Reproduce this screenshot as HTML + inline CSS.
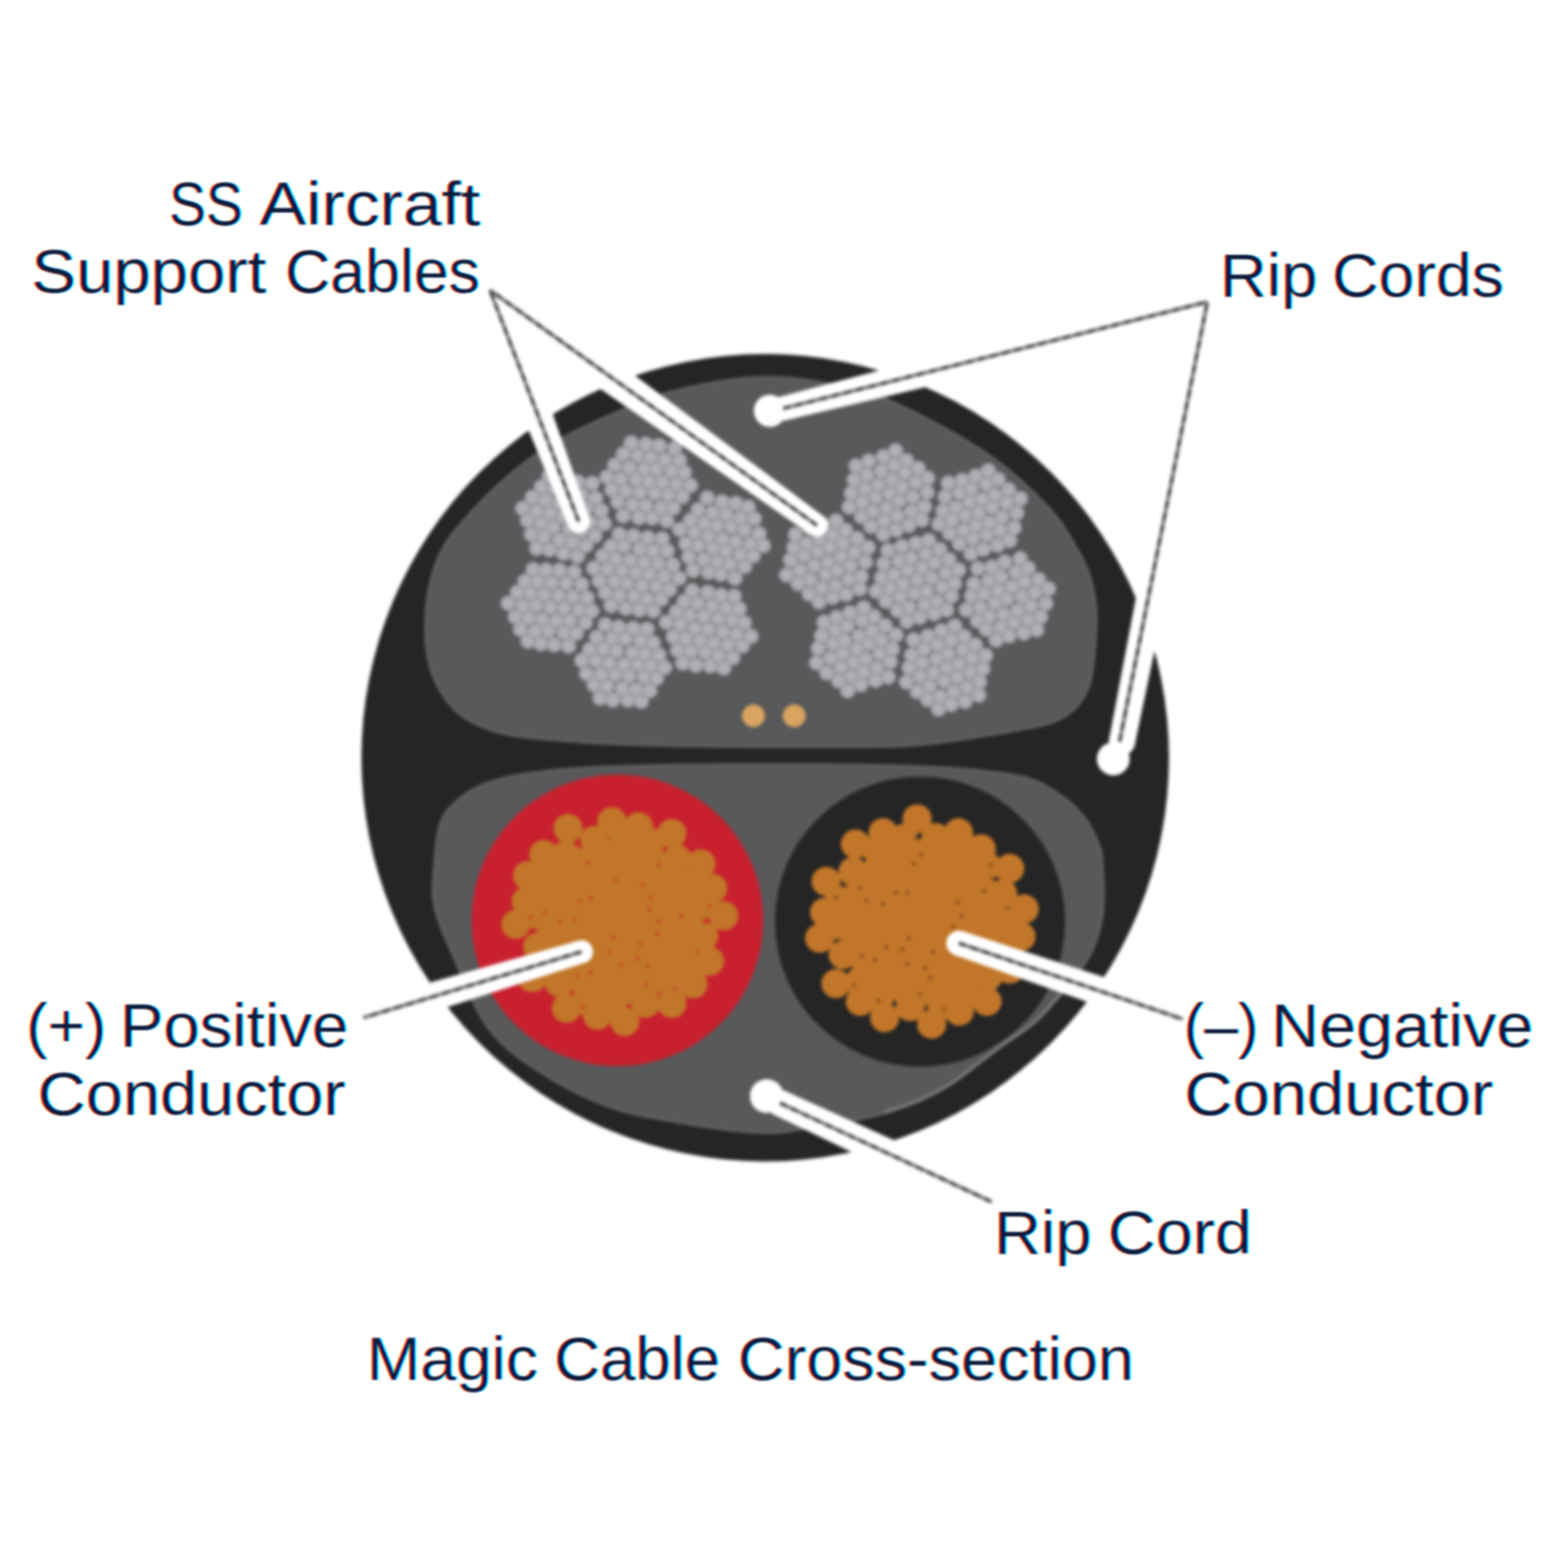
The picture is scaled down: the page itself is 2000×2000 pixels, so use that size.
<!DOCTYPE html>
<html lang="en"><head><meta charset="utf-8"><title>Magic Cable Cross-section</title>
<style>html,body{margin:0;padding:0;background:#fff}body{width:2000px;height:2000px;overflow:hidden}svg{display:block}</style></head>
<body>
<svg width="2000" height="2000" viewBox="0 0 2000 2000">
<defs><filter id="b" x="0" y="0" width="2000" height="2000" filterUnits="userSpaceOnUse" color-interpolation-filters="sRGB"><feGaussianBlur stdDeviation="2.2"/></filter><radialGradient id="sg"><stop offset="0" stop-color="#b3b5b8"/><stop offset="0.55" stop-color="#acaeb1"/><stop offset="1" stop-color="#97999c"/></radialGradient><filter id="bt" x="0" y="0" width="2000" height="2000" filterUnits="userSpaceOnUse" color-interpolation-filters="sRGB"><feGaussianBlur in="SourceAlpha" stdDeviation="1.25" result="a"/><feOffset in="a" dx="1.5" dy="0" result="ar"/><feOffset in="a" dx="-1.5" dy="0" result="ab"/><feColorMatrix in="ar" type="matrix" values="0 0 0 -0.953 1  0 0 0 0 1  0 0 0 0 1  0 0 0 0 1" result="lr"/><feColorMatrix in="a" type="matrix" values="0 0 0 0 1  0 0 0 -0.890 1  0 0 0 0 1  0 0 0 0 1" result="lg"/><feColorMatrix in="ab" type="matrix" values="0 0 0 0 1  0 0 0 0 1  0 0 0 -0.765 1  0 0 0 0 1" result="lb"/><feBlend in="lr" in2="lg" mode="multiply" result="rg"/><feBlend in="rg" in2="lb" mode="multiply"/></filter></defs>
<rect width="2000" height="2000" fill="#fff"/>
<g filter="url(#bt)" font-family="'Liberation Sans', Arial, sans-serif" font-size="77" fill="#0c1c3c">
<text y="287.4"><tspan x="215.3" textLength="94.1" lengthAdjust="spacingAndGlyphs">SS</tspan> <tspan x="330.8" textLength="281.4" lengthAdjust="spacingAndGlyphs">Aircraft</tspan></text>
<text y="372.9"><tspan x="39.6" textLength="299.7" lengthAdjust="spacingAndGlyphs">Support</tspan> <tspan x="363.2" textLength="248.6" lengthAdjust="spacingAndGlyphs">Cables</tspan></text>
<text y="378.4"><tspan x="1555.5" textLength="124.3" lengthAdjust="spacingAndGlyphs">Rip</tspan> <tspan x="1698.7" textLength="219.2" lengthAdjust="spacingAndGlyphs">Cords</tspan></text>
<text y="1334.5"><tspan x="33.1" textLength="102.1" lengthAdjust="spacingAndGlyphs">(+)</tspan> <tspan x="152.4" textLength="291.5" lengthAdjust="spacingAndGlyphs">Positive</tspan></text>
<text y="1421.5"><tspan x="47.6" textLength="392.8" lengthAdjust="spacingAndGlyphs">Conductor</tspan></text>
<text y="1334.5"><tspan x="1509.5" textLength="95.2" lengthAdjust="spacingAndGlyphs">(–)</tspan> <tspan x="1621.0" textLength="334.3" lengthAdjust="spacingAndGlyphs">Negative</tspan></text>
<text y="1421.5"><tspan x="1510.2" textLength="393.9" lengthAdjust="spacingAndGlyphs">Conductor</tspan></text>
<text y="1599.0"><tspan x="1267.5" textLength="124.3" lengthAdjust="spacingAndGlyphs">Rip</tspan> <tspan x="1412.6" textLength="183.8" lengthAdjust="spacingAndGlyphs">Cord</tspan></text>
<text y="1760.2"><tspan x="467.5" textLength="218.2" lengthAdjust="spacingAndGlyphs">Magic</tspan> <tspan x="706.6" textLength="211.5" lengthAdjust="spacingAndGlyphs">Cable</tspan> <tspan x="940.7" textLength="505.3" lengthAdjust="spacingAndGlyphs">Cross-section</tspan></text>
</g>
<g filter="url(#b)">
<circle cx="976" cy="966.5" r="515" fill="#252525"/>
<path d="M976.0,481.0 C940.3,481.5 898.0,489.6 866.9,496.9 C835.8,504.2 815.3,514.0 789.6,524.7 C763.9,535.5 735.9,548.0 712.7,561.4 C689.6,574.8 671.3,587.5 650.7,605.0 C630.1,622.5 604.6,648.6 589.2,666.5 C573.8,684.4 565.9,694.9 558.4,712.6 C550.9,730.3 546.2,752.3 544.0,772.7 C541.8,793.1 542.1,817.0 545.0,835.0 C547.9,853.0 553.6,867.6 561.5,881.0 C569.4,894.4 578.1,906.2 592.5,915.5 C606.9,924.8 623.1,931.8 648.0,937.0 C672.9,942.2 716.3,944.4 741.6,946.5 C766.9,948.6 779.3,948.7 800.0,949.5 C820.7,950.3 836.7,951.0 866.0,951.5 C895.3,952.0 940.2,952.3 976.0,952.5 C1011.8,952.7 1052.0,952.7 1081.0,952.5 C1110.0,952.3 1130.2,952.4 1150.0,951.5 C1169.8,950.6 1183.3,949.0 1200.0,947.0 C1216.7,945.0 1233.3,942.2 1250.0,939.5 C1266.7,936.8 1285.3,933.8 1300.0,931.0 C1314.7,928.2 1327.7,926.3 1338.0,923.0 C1348.3,919.7 1355.3,915.5 1362.0,911.0 C1368.7,906.5 1373.2,903.2 1378.0,896.0 C1382.8,888.8 1387.8,880.3 1391.0,868.0 C1394.2,855.7 1395.8,837.0 1397.0,822.0 C1398.2,807.0 1399.2,792.5 1398.0,778.0 C1396.8,763.5 1394.2,748.2 1390.0,735.0 C1385.8,721.8 1381.7,713.5 1373.0,699.0 C1364.3,684.5 1356.5,667.7 1338.0,648.0 C1319.5,628.3 1292.7,602.4 1262.0,581.0 C1231.3,559.6 1183.8,534.0 1153.6,519.5 C1123.4,505.0 1110.6,500.4 1081.0,494.0 C1051.4,487.6 1011.7,480.5 976.0,481.0Z" fill="#58595b" stroke="#626366" stroke-width="3"/>
<path d="M976.0,975.0 C908.2,975.0 824.0,976.0 773.0,978.0 C722.0,980.0 696.2,983.2 670.0,987.0 C643.8,990.8 631.0,994.8 616.0,1001.0 C601.0,1007.2 589.2,1015.5 580.0,1024.0 C570.8,1032.5 565.2,1039.3 561.0,1052.0 C556.8,1064.7 555.7,1082.8 554.5,1100.0 C553.3,1117.2 549.8,1134.4 554.0,1155.0 C558.2,1175.6 568.7,1197.8 580.0,1223.6 C591.3,1249.4 605.0,1286.8 622.0,1310.0 C639.0,1333.2 656.9,1346.3 682.0,1363.0 C707.1,1379.7 742.0,1398.5 772.7,1410.0 C803.4,1421.5 832.1,1425.9 866.0,1431.7 C899.9,1437.5 947.0,1444.1 976.0,1445.0 C1005.0,1445.9 1021.2,1439.7 1040.0,1437.0 C1058.8,1434.3 1074.3,1431.8 1089.0,1429.0 C1103.7,1426.2 1113.8,1424.2 1128.0,1420.0 C1142.2,1415.8 1160.7,1409.2 1174.0,1403.5 C1187.3,1397.8 1197.8,1392.1 1208.0,1386.0 C1218.2,1379.9 1224.0,1375.2 1235.0,1367.0 C1246.0,1358.8 1259.8,1347.5 1274.0,1337.0 C1288.2,1326.5 1307.3,1314.8 1320.0,1304.0 C1332.7,1293.2 1339.7,1284.0 1350.0,1272.0 C1360.3,1260.0 1374.0,1244.0 1382.0,1232.0 C1390.0,1220.0 1393.8,1212.0 1398.0,1200.0 C1402.2,1188.0 1405.7,1176.7 1407.0,1160.0 C1408.3,1143.3 1407.0,1114.0 1406.0,1100.0 C1405.0,1086.0 1404.7,1085.3 1401.0,1076.0 C1397.3,1066.7 1392.2,1054.3 1384.0,1044.0 C1375.8,1033.7 1366.0,1023.0 1352.0,1014.0 C1338.0,1005.0 1328.7,996.0 1300.0,990.0 C1271.3,984.0 1234.0,980.5 1180.0,978.0 C1126.0,975.5 1043.8,975.0 976.0,975.0Z" fill="#58595b" stroke="#626366" stroke-width="3"/>
<g fill="url(#sg)">
<circle cx="757.2" cy="724.7" r="10.1"/><circle cx="764.2" cy="740.9" r="10.1"/><circle cx="772.0" cy="756.0" r="10.1"/><circle cx="779.5" cy="772.4" r="10.1"/><circle cx="768.7" cy="708.8" r="10.1"/><circle cx="774.9" cy="726.2" r="10.1"/><circle cx="783.9" cy="741.8" r="10.1"/><circle cx="789.4" cy="759.6" r="10.1"/><circle cx="798.4" cy="775.9" r="10.1"/><circle cx="779.2" cy="696.8" r="10.1"/><circle cx="785.4" cy="713.0" r="10.1"/><circle cx="793.2" cy="727.5" r="10.1"/><circle cx="799.8" cy="744.4" r="10.1"/><circle cx="808.8" cy="760.5" r="10.1"/><circle cx="815.3" cy="778.1" r="10.1"/><circle cx="789.8" cy="681.3" r="10.1"/><circle cx="796.1" cy="696.5" r="10.1"/><circle cx="803.6" cy="714.5" r="10.1"/><circle cx="811.3" cy="730.0" r="10.1"/><circle cx="818.8" cy="746.8" r="10.1"/><circle cx="825.2" cy="764.1" r="10.1"/><circle cx="833.4" cy="779.1" r="10.1"/><circle cx="808.1" cy="683.3" r="10.1"/><circle cx="816.0" cy="700.3" r="10.1"/><circle cx="821.6" cy="717.4" r="10.1"/><circle cx="828.3" cy="732.3" r="10.1"/><circle cx="837.1" cy="748.1" r="10.1"/><circle cx="843.5" cy="764.2" r="10.1"/><circle cx="826.2" cy="686.0" r="10.1"/><circle cx="833.0" cy="702.7" r="10.1"/><circle cx="839.5" cy="718.7" r="10.1"/><circle cx="847.3" cy="734.8" r="10.1"/><circle cx="854.1" cy="751.9" r="10.1"/><circle cx="844.7" cy="687.3" r="10.1"/><circle cx="851.0" cy="702.7" r="10.1"/><circle cx="858.3" cy="720.6" r="10.1"/><circle cx="866.1" cy="737.5" r="10.1"/><circle cx="774.2" cy="608.7" r="10.1"/><circle cx="780.4" cy="624.6" r="10.1"/><circle cx="788.0" cy="640.1" r="10.1"/><circle cx="794.9" cy="658.1" r="10.1"/><circle cx="784.1" cy="593.2" r="10.1"/><circle cx="792.0" cy="611.2" r="10.1"/><circle cx="798.4" cy="626.5" r="10.1"/><circle cx="806.8" cy="644.0" r="10.1"/><circle cx="814.7" cy="660.3" r="10.1"/><circle cx="795.1" cy="579.2" r="10.1"/><circle cx="802.5" cy="596.8" r="10.1"/><circle cx="811.3" cy="611.3" r="10.1"/><circle cx="816.4" cy="627.9" r="10.1"/><circle cx="823.8" cy="644.9" r="10.1"/><circle cx="831.9" cy="660.7" r="10.1"/><circle cx="805.0" cy="564.8" r="10.1"/><circle cx="813.1" cy="581.5" r="10.1"/><circle cx="821.8" cy="598.3" r="10.1"/><circle cx="827.9" cy="614.4" r="10.1"/><circle cx="835.5" cy="629.4" r="10.1"/><circle cx="843.3" cy="647.6" r="10.1"/><circle cx="850.4" cy="664.1" r="10.1"/><circle cx="823.8" cy="566.7" r="10.1"/><circle cx="830.2" cy="583.7" r="10.1"/><circle cx="837.3" cy="598.6" r="10.1"/><circle cx="844.9" cy="615.2" r="10.1"/><circle cx="852.4" cy="631.3" r="10.1"/><circle cx="858.7" cy="648.0" r="10.1"/><circle cx="840.8" cy="568.5" r="10.1"/><circle cx="847.8" cy="586.3" r="10.1"/><circle cx="856.5" cy="600.8" r="10.1"/><circle cx="862.8" cy="617.7" r="10.1"/><circle cx="870.3" cy="633.5" r="10.1"/><circle cx="860.5" cy="572.1" r="10.1"/><circle cx="866.7" cy="587.2" r="10.1"/><circle cx="873.0" cy="602.6" r="10.1"/><circle cx="880.8" cy="619.4" r="10.1"/><circle cx="866.8" cy="675.3" r="10.1"/><circle cx="874.8" cy="693.5" r="10.1"/><circle cx="878.6" cy="710.5" r="10.1"/><circle cx="884.2" cy="727.3" r="10.1"/><circle cx="880.6" cy="663.9" r="10.1"/><circle cx="885.8" cy="679.3" r="10.1"/><circle cx="890.8" cy="695.9" r="10.1"/><circle cx="897.8" cy="713.7" r="10.1"/><circle cx="903.8" cy="730.1" r="10.1"/><circle cx="890.3" cy="650.2" r="10.1"/><circle cx="898.2" cy="667.2" r="10.1"/><circle cx="903.6" cy="684.0" r="10.1"/><circle cx="909.4" cy="699.4" r="10.1"/><circle cx="914.8" cy="716.6" r="10.1"/><circle cx="919.4" cy="732.6" r="10.1"/><circle cx="902.1" cy="635.2" r="10.1"/><circle cx="909.1" cy="653.9" r="10.1"/><circle cx="914.4" cy="670.7" r="10.1"/><circle cx="921.7" cy="687.7" r="10.1"/><circle cx="926.0" cy="702.6" r="10.1"/><circle cx="931.6" cy="719.5" r="10.1"/><circle cx="937.5" cy="737.5" r="10.1"/><circle cx="921.3" cy="640.0" r="10.1"/><circle cx="926.1" cy="656.4" r="10.1"/><circle cx="932.9" cy="671.8" r="10.1"/><circle cx="938.5" cy="690.9" r="10.1"/><circle cx="944.7" cy="707.3" r="10.1"/><circle cx="949.9" cy="722.7" r="10.1"/><circle cx="938.6" cy="642.0" r="10.1"/><circle cx="944.5" cy="660.5" r="10.1"/><circle cx="949.4" cy="675.9" r="10.1"/><circle cx="956.8" cy="693.7" r="10.1"/><circle cx="960.7" cy="709.0" r="10.1"/><circle cx="954.5" cy="646.8" r="10.1"/><circle cx="962.1" cy="661.7" r="10.1"/><circle cx="968.1" cy="680.8" r="10.1"/><circle cx="973.6" cy="696.0" r="10.1"/><circle cx="850.0" cy="793.7" r="10.1"/><circle cx="858.8" cy="812.0" r="10.1"/><circle cx="864.2" cy="829.4" r="10.1"/><circle cx="870.6" cy="845.9" r="10.1"/><circle cx="862.9" cy="780.2" r="10.1"/><circle cx="868.0" cy="797.1" r="10.1"/><circle cx="874.6" cy="814.5" r="10.1"/><circle cx="881.2" cy="830.7" r="10.1"/><circle cx="887.5" cy="848.6" r="10.1"/><circle cx="872.8" cy="766.8" r="10.1"/><circle cx="880.0" cy="784.6" r="10.1"/><circle cx="886.2" cy="801.3" r="10.1"/><circle cx="893.0" cy="817.0" r="10.1"/><circle cx="899.6" cy="832.3" r="10.1"/><circle cx="906.0" cy="849.3" r="10.1"/><circle cx="883.0" cy="753.7" r="10.1"/><circle cx="890.1" cy="769.5" r="10.1"/><circle cx="898.1" cy="786.3" r="10.1"/><circle cx="903.6" cy="802.9" r="10.1"/><circle cx="910.8" cy="820.2" r="10.1"/><circle cx="916.3" cy="836.3" r="10.1"/><circle cx="923.2" cy="852.2" r="10.1"/><circle cx="902.7" cy="755.5" r="10.1"/><circle cx="908.8" cy="772.8" r="10.1"/><circle cx="916.3" cy="788.7" r="10.1"/><circle cx="922.1" cy="805.5" r="10.1"/><circle cx="928.4" cy="822.6" r="10.1"/><circle cx="934.9" cy="838.8" r="10.1"/><circle cx="919.7" cy="759.3" r="10.1"/><circle cx="926.8" cy="775.8" r="10.1"/><circle cx="934.1" cy="790.8" r="10.1"/><circle cx="939.7" cy="809.2" r="10.1"/><circle cx="947.0" cy="823.8" r="10.1"/><circle cx="936.5" cy="760.6" r="10.1"/><circle cx="942.9" cy="776.7" r="10.1"/><circle cx="949.5" cy="794.5" r="10.1"/><circle cx="958.0" cy="811.7" r="10.1"/><circle cx="742.2" cy="842.4" r="10.1"/><circle cx="748.2" cy="859.2" r="10.1"/><circle cx="757.9" cy="873.7" r="10.1"/><circle cx="765.3" cy="890.5" r="10.1"/><circle cx="752.0" cy="828.6" r="10.1"/><circle cx="760.4" cy="842.7" r="10.1"/><circle cx="766.8" cy="859.9" r="10.1"/><circle cx="774.1" cy="875.3" r="10.1"/><circle cx="781.5" cy="892.9" r="10.1"/><circle cx="761.1" cy="812.9" r="10.1"/><circle cx="769.7" cy="827.7" r="10.1"/><circle cx="776.9" cy="845.5" r="10.1"/><circle cx="784.9" cy="860.3" r="10.1"/><circle cx="793.6" cy="878.5" r="10.1"/><circle cx="801.0" cy="893.0" r="10.1"/><circle cx="772.0" cy="796.9" r="10.1"/><circle cx="780.9" cy="813.8" r="10.1"/><circle cx="786.7" cy="830.4" r="10.1"/><circle cx="796.2" cy="847.7" r="10.1"/><circle cx="802.0" cy="862.2" r="10.1"/><circle cx="811.2" cy="879.5" r="10.1"/><circle cx="818.2" cy="894.6" r="10.1"/><circle cx="789.3" cy="800.2" r="10.1"/><circle cx="797.8" cy="814.9" r="10.1"/><circle cx="806.6" cy="832.6" r="10.1"/><circle cx="813.8" cy="847.4" r="10.1"/><circle cx="821.4" cy="863.6" r="10.1"/><circle cx="828.9" cy="880.9" r="10.1"/><circle cx="807.9" cy="801.5" r="10.1"/><circle cx="816.9" cy="817.0" r="10.1"/><circle cx="822.3" cy="833.9" r="10.1"/><circle cx="830.1" cy="849.1" r="10.1"/><circle cx="837.4" cy="865.2" r="10.1"/><circle cx="825.4" cy="802.5" r="10.1"/><circle cx="833.1" cy="819.9" r="10.1"/><circle cx="840.6" cy="835.5" r="10.1"/><circle cx="847.8" cy="851.4" r="10.1"/><circle cx="648.3" cy="769.4" r="10.1"/><circle cx="657.4" cy="786.9" r="10.1"/><circle cx="663.8" cy="802.8" r="10.1"/><circle cx="673.5" cy="817.9" r="10.1"/><circle cx="659.9" cy="755.6" r="10.1"/><circle cx="666.8" cy="772.8" r="10.1"/><circle cx="674.4" cy="788.1" r="10.1"/><circle cx="682.9" cy="805.4" r="10.1"/><circle cx="689.9" cy="821.1" r="10.1"/><circle cx="669.6" cy="741.4" r="10.1"/><circle cx="676.6" cy="756.7" r="10.1"/><circle cx="683.5" cy="772.3" r="10.1"/><circle cx="691.4" cy="790.0" r="10.1"/><circle cx="699.7" cy="804.6" r="10.1"/><circle cx="707.0" cy="822.4" r="10.1"/><circle cx="680.1" cy="726.6" r="10.1"/><circle cx="686.4" cy="741.6" r="10.1"/><circle cx="694.2" cy="758.3" r="10.1"/><circle cx="701.7" cy="774.4" r="10.1"/><circle cx="709.7" cy="791.8" r="10.1"/><circle cx="719.4" cy="806.9" r="10.1"/><circle cx="725.3" cy="824.1" r="10.1"/><circle cx="696.5" cy="727.1" r="10.1"/><circle cx="703.5" cy="743.3" r="10.1"/><circle cx="712.5" cy="759.7" r="10.1"/><circle cx="719.6" cy="775.8" r="10.1"/><circle cx="726.9" cy="791.3" r="10.1"/><circle cx="735.0" cy="807.8" r="10.1"/><circle cx="713.7" cy="727.5" r="10.1"/><circle cx="722.1" cy="744.2" r="10.1"/><circle cx="730.7" cy="761.1" r="10.1"/><circle cx="738.9" cy="777.5" r="10.1"/><circle cx="746.6" cy="794.2" r="10.1"/><circle cx="732.4" cy="729.6" r="10.1"/><circle cx="741.8" cy="745.3" r="10.1"/><circle cx="748.9" cy="762.7" r="10.1"/><circle cx="754.9" cy="779.3" r="10.1"/><circle cx="666.6" cy="648.4" r="10.1"/><circle cx="672.8" cy="663.8" r="10.1"/><circle cx="677.9" cy="681.7" r="10.1"/><circle cx="684.5" cy="699.4" r="10.1"/><circle cx="678.8" cy="634.5" r="10.1"/><circle cx="684.8" cy="651.7" r="10.1"/><circle cx="690.1" cy="667.5" r="10.1"/><circle cx="694.1" cy="684.2" r="10.1"/><circle cx="700.8" cy="701.0" r="10.1"/><circle cx="690.6" cy="621.0" r="10.1"/><circle cx="695.9" cy="638.1" r="10.1"/><circle cx="701.8" cy="654.7" r="10.1"/><circle cx="705.8" cy="672.4" r="10.1"/><circle cx="713.6" cy="688.6" r="10.1"/><circle cx="718.8" cy="705.9" r="10.1"/><circle cx="700.4" cy="608.0" r="10.1"/><circle cx="706.7" cy="623.2" r="10.1"/><circle cx="712.5" cy="641.8" r="10.1"/><circle cx="718.1" cy="658.8" r="10.1"/><circle cx="725.9" cy="675.1" r="10.1"/><circle cx="730.2" cy="692.0" r="10.1"/><circle cx="736.7" cy="709.7" r="10.1"/><circle cx="719.4" cy="611.2" r="10.1"/><circle cx="723.8" cy="626.8" r="10.1"/><circle cx="730.0" cy="645.3" r="10.1"/><circle cx="736.0" cy="661.8" r="10.1"/><circle cx="741.0" cy="677.4" r="10.1"/><circle cx="747.4" cy="695.9" r="10.1"/><circle cx="737.2" cy="614.7" r="10.1"/><circle cx="741.9" cy="631.2" r="10.1"/><circle cx="748.2" cy="648.0" r="10.1"/><circle cx="753.0" cy="666.1" r="10.1"/><circle cx="759.0" cy="683.3" r="10.1"/><circle cx="755.4" cy="616.5" r="10.1"/><circle cx="759.9" cy="635.5" r="10.1"/><circle cx="767.0" cy="651.5" r="10.1"/><circle cx="771.0" cy="667.8" r="10.1"/>
<circle cx="1117.7" cy="754.1" r="10.1"/><circle cx="1130.1" cy="766.7" r="10.1"/><circle cx="1144.7" cy="778.5" r="10.1"/><circle cx="1156.9" cy="792.3" r="10.1"/><circle cx="1124.3" cy="737.2" r="10.1"/><circle cx="1135.1" cy="750.5" r="10.1"/><circle cx="1148.3" cy="761.0" r="10.1"/><circle cx="1159.6" cy="775.0" r="10.1"/><circle cx="1173.3" cy="787.3" r="10.1"/><circle cx="1127.2" cy="719.0" r="10.1"/><circle cx="1140.2" cy="733.1" r="10.1"/><circle cx="1151.9" cy="745.6" r="10.1"/><circle cx="1166.6" cy="756.8" r="10.1"/><circle cx="1179.3" cy="771.1" r="10.1"/><circle cx="1191.8" cy="782.8" r="10.1"/><circle cx="1132.6" cy="701.9" r="10.1"/><circle cx="1146.7" cy="715.2" r="10.1"/><circle cx="1157.6" cy="727.5" r="10.1"/><circle cx="1169.9" cy="739.3" r="10.1"/><circle cx="1182.0" cy="754.2" r="10.1"/><circle cx="1195.0" cy="767.2" r="10.1"/><circle cx="1207.4" cy="778.2" r="10.1"/><circle cx="1150.3" cy="696.9" r="10.1"/><circle cx="1162.4" cy="711.7" r="10.1"/><circle cx="1176.3" cy="724.1" r="10.1"/><circle cx="1188.2" cy="737.1" r="10.1"/><circle cx="1201.5" cy="748.9" r="10.1"/><circle cx="1213.5" cy="760.4" r="10.1"/><circle cx="1168.2" cy="693.1" r="10.1"/><circle cx="1180.8" cy="706.4" r="10.1"/><circle cx="1192.1" cy="717.6" r="10.1"/><circle cx="1206.3" cy="730.6" r="10.1"/><circle cx="1217.6" cy="744.0" r="10.1"/><circle cx="1184.4" cy="689.4" r="10.1"/><circle cx="1198.7" cy="700.9" r="10.1"/><circle cx="1210.4" cy="713.8" r="10.1"/><circle cx="1222.7" cy="726.8" r="10.1"/><circle cx="1083.1" cy="646.9" r="10.1"/><circle cx="1098.8" cy="659.0" r="10.1"/><circle cx="1110.9" cy="671.4" r="10.1"/><circle cx="1126.8" cy="681.6" r="10.1"/><circle cx="1085.9" cy="629.2" r="10.1"/><circle cx="1099.6" cy="641.0" r="10.1"/><circle cx="1113.5" cy="652.1" r="10.1"/><circle cx="1127.8" cy="664.3" r="10.1"/><circle cx="1143.2" cy="676.1" r="10.1"/><circle cx="1089.5" cy="612.1" r="10.1"/><circle cx="1103.7" cy="623.4" r="10.1"/><circle cx="1117.0" cy="633.9" r="10.1"/><circle cx="1130.7" cy="647.6" r="10.1"/><circle cx="1144.2" cy="657.8" r="10.1"/><circle cx="1159.3" cy="670.1" r="10.1"/><circle cx="1091.9" cy="594.1" r="10.1"/><circle cx="1105.8" cy="605.8" r="10.1"/><circle cx="1120.2" cy="618.6" r="10.1"/><circle cx="1135.1" cy="629.7" r="10.1"/><circle cx="1146.8" cy="638.9" r="10.1"/><circle cx="1162.4" cy="652.5" r="10.1"/><circle cx="1175.7" cy="663.0" r="10.1"/><circle cx="1108.1" cy="588.1" r="10.1"/><circle cx="1124.4" cy="600.6" r="10.1"/><circle cx="1138.0" cy="612.3" r="10.1"/><circle cx="1150.3" cy="621.4" r="10.1"/><circle cx="1163.9" cy="633.8" r="10.1"/><circle cx="1179.1" cy="646.3" r="10.1"/><circle cx="1126.7" cy="582.5" r="10.1"/><circle cx="1140.7" cy="593.3" r="10.1"/><circle cx="1154.0" cy="603.6" r="10.1"/><circle cx="1168.4" cy="615.4" r="10.1"/><circle cx="1182.6" cy="627.8" r="10.1"/><circle cx="1142.4" cy="574.8" r="10.1"/><circle cx="1156.1" cy="587.5" r="10.1"/><circle cx="1171.1" cy="597.4" r="10.1"/><circle cx="1183.3" cy="609.9" r="10.1"/><circle cx="1197.6" cy="668.5" r="10.1"/><circle cx="1211.3" cy="680.0" r="10.1"/><circle cx="1223.7" cy="693.3" r="10.1"/><circle cx="1238.5" cy="706.0" r="10.1"/><circle cx="1202.8" cy="651.7" r="10.1"/><circle cx="1214.3" cy="663.2" r="10.1"/><circle cx="1229.3" cy="676.5" r="10.1"/><circle cx="1240.8" cy="686.9" r="10.1"/><circle cx="1254.4" cy="700.7" r="10.1"/><circle cx="1205.5" cy="633.6" r="10.1"/><circle cx="1219.3" cy="647.5" r="10.1"/><circle cx="1231.3" cy="657.3" r="10.1"/><circle cx="1244.8" cy="670.4" r="10.1"/><circle cx="1258.8" cy="682.0" r="10.1"/><circle cx="1272.3" cy="695.5" r="10.1"/><circle cx="1209.6" cy="616.0" r="10.1"/><circle cx="1224.0" cy="628.4" r="10.1"/><circle cx="1236.8" cy="640.3" r="10.1"/><circle cx="1248.4" cy="653.9" r="10.1"/><circle cx="1261.8" cy="666.5" r="10.1"/><circle cx="1275.4" cy="676.6" r="10.1"/><circle cx="1287.9" cy="689.4" r="10.1"/><circle cx="1227.2" cy="612.6" r="10.1"/><circle cx="1239.0" cy="623.3" r="10.1"/><circle cx="1252.3" cy="636.9" r="10.1"/><circle cx="1265.3" cy="646.7" r="10.1"/><circle cx="1278.2" cy="659.7" r="10.1"/><circle cx="1293.6" cy="673.1" r="10.1"/><circle cx="1244.4" cy="607.4" r="10.1"/><circle cx="1258.1" cy="617.8" r="10.1"/><circle cx="1269.3" cy="631.5" r="10.1"/><circle cx="1283.9" cy="641.3" r="10.1"/><circle cx="1296.9" cy="654.3" r="10.1"/><circle cx="1260.6" cy="600.3" r="10.1"/><circle cx="1273.2" cy="611.6" r="10.1"/><circle cx="1286.6" cy="624.7" r="10.1"/><circle cx="1301.6" cy="636.2" r="10.1"/><circle cx="1232.6" cy="777.8" r="10.1"/><circle cx="1246.7" cy="791.8" r="10.1"/><circle cx="1258.2" cy="802.6" r="10.1"/><circle cx="1270.8" cy="816.3" r="10.1"/><circle cx="1239.3" cy="760.2" r="10.1"/><circle cx="1250.4" cy="774.8" r="10.1"/><circle cx="1262.0" cy="786.3" r="10.1"/><circle cx="1276.5" cy="800.1" r="10.1"/><circle cx="1287.0" cy="811.0" r="10.1"/><circle cx="1242.0" cy="744.8" r="10.1"/><circle cx="1255.0" cy="757.2" r="10.1"/><circle cx="1269.1" cy="768.9" r="10.1"/><circle cx="1280.0" cy="783.4" r="10.1"/><circle cx="1293.4" cy="794.4" r="10.1"/><circle cx="1306.1" cy="807.3" r="10.1"/><circle cx="1247.4" cy="725.2" r="10.1"/><circle cx="1261.1" cy="740.4" r="10.1"/><circle cx="1273.3" cy="753.3" r="10.1"/><circle cx="1284.2" cy="764.2" r="10.1"/><circle cx="1297.9" cy="778.9" r="10.1"/><circle cx="1311.6" cy="790.3" r="10.1"/><circle cx="1322.3" cy="803.2" r="10.1"/><circle cx="1265.3" cy="723.2" r="10.1"/><circle cx="1277.0" cy="735.7" r="10.1"/><circle cx="1290.9" cy="748.5" r="10.1"/><circle cx="1303.5" cy="760.8" r="10.1"/><circle cx="1314.8" cy="772.9" r="10.1"/><circle cx="1327.4" cy="786.9" r="10.1"/><circle cx="1281.5" cy="716.9" r="10.1"/><circle cx="1295.8" cy="729.8" r="10.1"/><circle cx="1306.5" cy="742.1" r="10.1"/><circle cx="1320.3" cy="755.6" r="10.1"/><circle cx="1333.9" cy="769.9" r="10.1"/><circle cx="1301.2" cy="712.6" r="10.1"/><circle cx="1311.4" cy="725.0" r="10.1"/><circle cx="1325.0" cy="739.4" r="10.1"/><circle cx="1337.3" cy="751.0" r="10.1"/><circle cx="1156.2" cy="869.9" r="10.1"/><circle cx="1170.0" cy="882.2" r="10.1"/><circle cx="1183.2" cy="892.1" r="10.1"/><circle cx="1197.1" cy="904.4" r="10.1"/><circle cx="1159.6" cy="851.6" r="10.1"/><circle cx="1173.5" cy="862.9" r="10.1"/><circle cx="1185.7" cy="874.9" r="10.1"/><circle cx="1198.9" cy="888.3" r="10.1"/><circle cx="1213.4" cy="898.7" r="10.1"/><circle cx="1162.7" cy="835.6" r="10.1"/><circle cx="1176.4" cy="845.5" r="10.1"/><circle cx="1190.7" cy="858.4" r="10.1"/><circle cx="1204.6" cy="868.8" r="10.1"/><circle cx="1216.7" cy="882.5" r="10.1"/><circle cx="1231.1" cy="894.5" r="10.1"/><circle cx="1165.3" cy="816.2" r="10.1"/><circle cx="1178.9" cy="827.8" r="10.1"/><circle cx="1194.6" cy="840.6" r="10.1"/><circle cx="1207.9" cy="851.9" r="10.1"/><circle cx="1221.2" cy="863.9" r="10.1"/><circle cx="1233.1" cy="876.6" r="10.1"/><circle cx="1248.3" cy="886.7" r="10.1"/><circle cx="1183.7" cy="811.4" r="10.1"/><circle cx="1196.2" cy="822.5" r="10.1"/><circle cx="1209.4" cy="833.9" r="10.1"/><circle cx="1223.1" cy="846.8" r="10.1"/><circle cx="1237.6" cy="857.6" r="10.1"/><circle cx="1249.4" cy="869.7" r="10.1"/><circle cx="1200.9" cy="804.5" r="10.1"/><circle cx="1213.4" cy="816.4" r="10.1"/><circle cx="1228.1" cy="829.1" r="10.1"/><circle cx="1239.6" cy="839.8" r="10.1"/><circle cx="1253.9" cy="852.7" r="10.1"/><circle cx="1217.7" cy="798.5" r="10.1"/><circle cx="1229.9" cy="811.9" r="10.1"/><circle cx="1244.0" cy="822.7" r="10.1"/><circle cx="1257.2" cy="836.2" r="10.1"/><circle cx="1041.4" cy="845.4" r="10.1"/><circle cx="1054.7" cy="858.3" r="10.1"/><circle cx="1069.8" cy="868.6" r="10.1"/><circle cx="1081.3" cy="881.2" r="10.1"/><circle cx="1043.7" cy="826.9" r="10.1"/><circle cx="1059.2" cy="839.6" r="10.1"/><circle cx="1072.6" cy="851.2" r="10.1"/><circle cx="1086.3" cy="862.9" r="10.1"/><circle cx="1098.1" cy="873.4" r="10.1"/><circle cx="1047.9" cy="810.9" r="10.1"/><circle cx="1062.5" cy="821.1" r="10.1"/><circle cx="1075.3" cy="833.5" r="10.1"/><circle cx="1088.6" cy="844.5" r="10.1"/><circle cx="1101.7" cy="857.1" r="10.1"/><circle cx="1116.9" cy="867.7" r="10.1"/><circle cx="1051.0" cy="793.7" r="10.1"/><circle cx="1065.9" cy="803.8" r="10.1"/><circle cx="1077.3" cy="817.3" r="10.1"/><circle cx="1093.1" cy="827.8" r="10.1"/><circle cx="1104.3" cy="840.6" r="10.1"/><circle cx="1118.8" cy="852.1" r="10.1"/><circle cx="1133.0" cy="863.5" r="10.1"/><circle cx="1067.0" cy="787.7" r="10.1"/><circle cx="1080.8" cy="798.3" r="10.1"/><circle cx="1096.0" cy="811.1" r="10.1"/><circle cx="1107.9" cy="821.1" r="10.1"/><circle cx="1122.1" cy="833.5" r="10.1"/><circle cx="1135.7" cy="844.1" r="10.1"/><circle cx="1084.1" cy="781.6" r="10.1"/><circle cx="1099.4" cy="791.4" r="10.1"/><circle cx="1112.2" cy="804.9" r="10.1"/><circle cx="1124.4" cy="816.7" r="10.1"/><circle cx="1138.2" cy="827.8" r="10.1"/><circle cx="1101.8" cy="775.3" r="10.1"/><circle cx="1114.8" cy="786.4" r="10.1"/><circle cx="1129.1" cy="798.1" r="10.1"/><circle cx="1142.9" cy="809.8" r="10.1"/><circle cx="1003.4" cy="733.4" r="10.1"/><circle cx="1018.0" cy="744.3" r="10.1"/><circle cx="1032.1" cy="757.6" r="10.1"/><circle cx="1044.7" cy="767.9" r="10.1"/><circle cx="1008.1" cy="714.5" r="10.1"/><circle cx="1020.7" cy="727.2" r="10.1"/><circle cx="1034.0" cy="739.1" r="10.1"/><circle cx="1048.5" cy="750.0" r="10.1"/><circle cx="1062.2" cy="761.9" r="10.1"/><circle cx="1012.4" cy="698.7" r="10.1"/><circle cx="1025.2" cy="708.7" r="10.1"/><circle cx="1038.6" cy="721.4" r="10.1"/><circle cx="1053.2" cy="732.7" r="10.1"/><circle cx="1066.3" cy="746.8" r="10.1"/><circle cx="1079.4" cy="758.2" r="10.1"/><circle cx="1014.6" cy="681.7" r="10.1"/><circle cx="1028.7" cy="693.5" r="10.1"/><circle cx="1043.2" cy="703.3" r="10.1"/><circle cx="1056.3" cy="717.2" r="10.1"/><circle cx="1067.8" cy="727.5" r="10.1"/><circle cx="1083.0" cy="738.9" r="10.1"/><circle cx="1096.8" cy="751.1" r="10.1"/><circle cx="1033.1" cy="673.9" r="10.1"/><circle cx="1045.7" cy="687.8" r="10.1"/><circle cx="1058.4" cy="697.9" r="10.1"/><circle cx="1072.6" cy="709.9" r="10.1"/><circle cx="1084.7" cy="721.4" r="10.1"/><circle cx="1098.5" cy="735.3" r="10.1"/><circle cx="1049.8" cy="670.2" r="10.1"/><circle cx="1061.8" cy="681.7" r="10.1"/><circle cx="1075.1" cy="692.9" r="10.1"/><circle cx="1089.9" cy="704.4" r="10.1"/><circle cx="1103.9" cy="716.7" r="10.1"/><circle cx="1066.5" cy="664.4" r="10.1"/><circle cx="1078.7" cy="676.6" r="10.1"/><circle cx="1093.4" cy="686.9" r="10.1"/><circle cx="1107.3" cy="698.4" r="10.1"/>
</g>
<g fill="#d9a45f"><circle cx="961" cy="913" r="14.5"/><circle cx="1013" cy="913" r="14.5"/></g>
<circle cx="787.5" cy="1174" r="186" fill="#c8202e"/>
<circle cx="1173.5" cy="1175.5" r="185" fill="#252525"/>
<path d="M1128.0,1419.0 C1135.7,1416.2 1160.7,1408.2 1174.0,1402.5 C1187.3,1396.8 1197.8,1391.1 1208.0,1385.0 C1218.2,1378.9 1224.0,1374.2 1235.0,1366.0 C1246.0,1357.8 1259.8,1346.5 1274.0,1336.0 C1288.2,1325.5 1307.3,1313.8 1320.0,1303.0 C1332.7,1292.2 1342.0,1279.8 1350.0,1271.0 C1358.0,1262.2 1365.0,1253.5 1368.0,1250.0" fill="none" stroke="#808184" stroke-width="3.5"/>
<g fill="#c17629">
<circle cx="790.0" cy="1176.0" r="106"/><circle cx="796.6" cy="1067.2" r="18.6"/><circle cx="829.7" cy="1074.5" r="18.6"/><circle cx="863.6" cy="1095.6" r="18.6"/><circle cx="886.5" cy="1125.4" r="18.6"/><circle cx="896.8" cy="1154.4" r="18.6"/><circle cx="897.5" cy="1194.2" r="18.6"/><circle cx="882.8" cy="1233.3" r="18.6"/><circle cx="862.0" cy="1257.8" r="18.6"/><circle cx="823.3" cy="1279.8" r="18.6"/><circle cx="780.7" cy="1284.6" r="18.6"/><circle cx="748.0" cy="1276.6" r="18.6"/><circle cx="713.5" cy="1253.6" r="18.6"/><circle cx="685.7" cy="1207.8" r="18.6"/><circle cx="681.5" cy="1166.1" r="18.6"/><circle cx="687.4" cy="1139.1" r="18.6"/><circle cx="699.8" cy="1114.8" r="18.6"/><circle cx="722.5" cy="1090.4" r="18.6"/><circle cx="758.4" cy="1071.7" r="18.6"/><circle cx="780.5" cy="1048.0" r="18.6"/><circle cx="814.6" cy="1054.5" r="18.6"/><circle cx="857.0" cy="1063.0" r="18.6"/><circle cx="894.0" cy="1102.0" r="18.6"/><circle cx="909.0" cy="1133.0" r="18.6"/><circle cx="923.0" cy="1168.0" r="18.6"/><circle cx="905.0" cy="1226.0" r="18.6"/><circle cx="884.0" cy="1255.0" r="18.6"/><circle cx="857.0" cy="1280.0" r="18.6"/><circle cx="797.0" cy="1303.0" r="18.6"/><circle cx="762.0" cy="1295.0" r="18.6"/><circle cx="722.5" cy="1286.0" r="18.6"/><circle cx="679.0" cy="1247.0" r="18.6"/><circle cx="658.0" cy="1179.0" r="18.6"/><circle cx="671.0" cy="1150.0" r="18.6"/><circle cx="673.0" cy="1117.0" r="18.6"/><circle cx="693.5" cy="1090.0" r="18.6"/><circle cx="724.6" cy="1056.6" r="18.6"/><g fill="#c43d2b"><circle cx="739.1" cy="1149.8" r="2.3"/><circle cx="753.6" cy="1145.6" r="2.3"/><circle cx="677.0" cy="1170.5" r="2.3"/><circle cx="695.6" cy="1164.3" r="2.3"/><circle cx="714.2" cy="1176.7" r="2.3"/><circle cx="732.9" cy="1173.6" r="2.3"/><circle cx="672.8" cy="1193.3" r="2.3"/><circle cx="749.4" cy="1100.1" r="2.3"/><circle cx="734.9" cy="1077.3" r="2.3"/><circle cx="784.6" cy="1122.9" r="2.3"/><circle cx="830.2" cy="1145.6" r="2.3"/><circle cx="828.1" cy="1160.1" r="2.3"/><circle cx="846.7" cy="1085.6" r="2.3"/><circle cx="840.5" cy="1102.2" r="2.3"/><circle cx="819.8" cy="1129.1" r="2.3"/><circle cx="840.5" cy="1174.6" r="2.3"/><circle cx="838.4" cy="1191.2" r="2.3"/><circle cx="778.4" cy="1214.0" r="2.3"/><circle cx="813.6" cy="1222.2" r="2.3"/><circle cx="826.0" cy="1232.6" r="2.3"/><circle cx="792.9" cy="1230.5" r="2.3"/><circle cx="753.6" cy="1240.9" r="2.3"/><circle cx="737.0" cy="1245.0" r="2.3"/><circle cx="840.5" cy="1267.8" r="2.3"/><circle cx="861.2" cy="1261.6" r="2.3"/><circle cx="824.0" cy="1255.4" r="2.3"/><circle cx="743.2" cy="1284.3" r="2.3"/><circle cx="730.8" cy="1267.8" r="2.3"/><circle cx="782.5" cy="1195.3" r="2.3"/><circle cx="817.7" cy="1203.6" r="2.3"/><circle cx="900.6" cy="1176.7" r="2.3"/><circle cx="904.7" cy="1156.0" r="2.3"/><circle cx="869.5" cy="1168.4" r="2.3"/></g>
<circle cx="1176.0" cy="1176.0" r="106"/><circle cx="1151.8" cy="1069.7" r="18.6"/><circle cx="1117.8" cy="1083.8" r="18.6"/><circle cx="1088.0" cy="1111.7" r="18.6"/><circle cx="1070.5" cy="1148.5" r="18.6"/><circle cx="1067.1" cy="1179.6" r="18.6"/><circle cx="1075.3" cy="1217.7" r="18.6"/><circle cx="1097.2" cy="1251.3" r="18.6"/><circle cx="1122.4" cy="1270.9" r="18.6"/><circle cx="1161.0" cy="1284.0" r="18.6"/><circle cx="1202.0" cy="1281.9" r="18.6"/><circle cx="1232.5" cy="1269.2" r="18.6"/><circle cx="1259.9" cy="1245.5" r="18.6"/><circle cx="1279.5" cy="1210.1" r="18.6"/><circle cx="1285.0" cy="1176.8" r="18.6"/><circle cx="1278.9" cy="1139.9" r="18.6"/><circle cx="1258.6" cy="1104.8" r="18.6"/><circle cx="1231.4" cy="1082.1" r="18.6"/><circle cx="1193.7" cy="1068.4" r="18.6"/><circle cx="1169.8" cy="1044.5" r="18.6"/><circle cx="1126.3" cy="1062.1" r="18.6"/><circle cx="1091.1" cy="1076.6" r="18.6"/><circle cx="1053.8" cy="1124.2" r="18.6"/><circle cx="1051.8" cy="1163.6" r="18.6"/><circle cx="1045.5" cy="1196.7" r="18.6"/><circle cx="1066.3" cy="1254.7" r="18.6"/><circle cx="1097.3" cy="1277.4" r="18.6"/><circle cx="1128.4" cy="1298.1" r="18.6"/><circle cx="1188.4" cy="1306.4" r="18.6"/><circle cx="1223.6" cy="1289.9" r="18.6"/><circle cx="1258.8" cy="1277.4" r="18.6"/><circle cx="1288.0" cy="1236.0" r="18.6"/><circle cx="1302.3" cy="1194.6" r="18.6"/><circle cx="1306.4" cy="1159.4" r="18.6"/><circle cx="1287.8" cy="1107.7" r="18.6"/><circle cx="1251.6" cy="1082.8" r="18.6"/><circle cx="1222.6" cy="1062.1" r="18.6"/><g fill="#7a4a1e"><circle cx="1077.6" cy="1130.4" r="2.3"/><circle cx="1097.3" cy="1132.5" r="2.3"/><circle cx="1142.9" cy="1138.7" r="2.3"/><circle cx="1157.3" cy="1138.7" r="2.3"/><circle cx="1105.6" cy="1149.1" r="2.3"/><circle cx="1126.3" cy="1153.2" r="2.3"/><circle cx="1168.7" cy="1069.4" r="2.3"/><circle cx="1174.9" cy="1090.1" r="2.3"/><circle cx="1165.6" cy="1101.4" r="2.3"/><circle cx="1221.5" cy="1151.1" r="2.3"/><circle cx="1226.7" cy="1168.7" r="2.3"/><circle cx="1215.3" cy="1182.2" r="2.3"/><circle cx="1266.0" cy="1120.1" r="2.3"/><circle cx="1255.7" cy="1136.6" r="2.3"/><circle cx="1264.0" cy="1102.5" r="2.3"/><circle cx="1089.0" cy="1256.7" r="2.3"/><circle cx="1099.4" cy="1219.5" r="2.3"/><circle cx="1115.9" cy="1224.6" r="2.3"/><circle cx="1157.3" cy="1229.8" r="2.3"/><circle cx="1180.1" cy="1235.0" r="2.3"/><circle cx="1186.3" cy="1247.4" r="2.3"/><circle cx="1173.9" cy="1268.1" r="2.3"/><circle cx="1182.2" cy="1284.7" r="2.3"/><circle cx="1203.9" cy="1287.8" r="2.3"/><circle cx="1130.4" cy="1208.1" r="2.3"/><circle cx="1151.1" cy="1211.2" r="2.3"/><circle cx="1190.5" cy="1214.3" r="2.3"/><circle cx="1120.1" cy="1276.4" r="2.3"/><circle cx="1066.3" cy="1144.9" r="2.3"/><circle cx="1068.3" cy="1200.8" r="2.3"/><circle cx="1159.4" cy="1196.7" r="2.3"/></g>
</g>
<g fill="#fff">
<polygon points="751.6,660.1 677.9,451.7 640.2,466.1 724.6,670.5"/>
<circle cx="738.1" cy="665.3" r="14.5"/>
<polygon points="1050.3,658.5 774.6,452.7 750.9,485.6 1033.7,681.7"/>
<circle cx="1042.0" cy="670.1" r="14.2"/>
<polygon points="1002.8,536.0 1198.3,489.5 1189.5,454.5 995.2,506.0"/>
<circle cx="999.0" cy="521.0" r="15.5"/>
<polygon points="1447.4,949.9 1488.9,752.2 1452.2,744.9 1414.6,943.3"/>
<circle cx="1431.0" cy="946.6" r="16.8"/>
<polygon points="737.3,1199.9 513.1,1263.2 524.1,1299.6 745.9,1228.1"/>
<circle cx="741.6" cy="1214.0" r="14.8"/>
<polygon points="1217.9,1218.2 1431.9,1293.8 1444.1,1258.0 1228.1,1187.8"/>
<circle cx="1223.0" cy="1203.0" r="16.0"/>
<polygon points="987.9,1422.2 1140.2,1495.4 1156.1,1461.5 1002.1,1391.8"/>
<circle cx="995.0" cy="1407.0" r="16.8"/>
</g>
<g fill="#fff">
<circle cx="982" cy="524" r="20.5"/>
<circle cx="1420" cy="968" r="21"/>
<circle cx="978" cy="1398" r="21.5"/>
</g>
<g stroke="#6f7073" stroke-width="4.2" fill="none">
<line x1="625.0" y1="370.0" x2="738.1" y2="665.3"/>
<line x1="625.0" y1="370.0" x2="1042.0" y2="670.1"/>
<line x1="1540.0" y1="385.0" x2="999.0" y2="521.0"/>
<line x1="1540.0" y1="385.0" x2="1428.0" y2="946.0"/>
<line x1="463.7" y1="1298.0" x2="741.6" y2="1214.0"/>
<line x1="1509.0" y1="1300.0" x2="1223.0" y2="1203.0"/>
<line x1="1265.0" y1="1533.0" x2="995.0" y2="1407.0"/>
</g>
<g stroke="#333335" stroke-width="4.2" fill="none" stroke-dasharray="9 7" stroke-opacity="0.8">
<line x1="738.1" y1="665.3" x2="625.0" y2="370.0"/>
<line x1="1042.0" y1="670.1" x2="625.0" y2="370.0"/>
<line x1="999.0" y1="521.0" x2="1540.0" y2="385.0"/>
<line x1="1428.0" y1="946.0" x2="1540.0" y2="385.0"/>
<line x1="741.6" y1="1214.0" x2="463.7" y2="1298.0"/>
<line x1="1223.0" y1="1203.0" x2="1509.0" y2="1300.0"/>
<line x1="995.0" y1="1407.0" x2="1265.0" y2="1533.0"/>
</g>
</g>
</svg>
</body></html>
